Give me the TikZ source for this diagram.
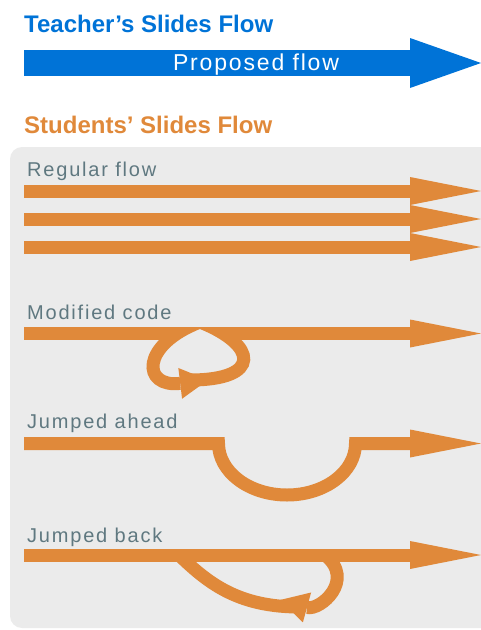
\documentclass[tikz,border=0pt]{standalone}
\usepackage{fontspec}
\setmainfont{Liberation Sans}
\usetikzlibrary{arrows.meta}

\definecolor{teacherblue}{RGB}{0,115,215}
\definecolor{studentorange}{RGB}{224,137,58}
\definecolor{panelgray}{RGB}{235,235,235}
\definecolor{labelgray}{RGB}{95,120,128}

\tikzset{
  title/.style={anchor=base west, inner sep=0pt,
    font=\fontsize{24}{28}\selectfont\bfseries},
  flowlabel/.style={anchor=base west, inner sep=0pt, text=labelgray,
    font=\fontsize{20}{24}\selectfont\addfontfeature{LetterSpace=9}},
  flow/.style={line width=13pt, studentorange},
  flowarrow/.style={flow, -{Triangle[length=71pt,width=28pt,line width=0pt]}},
  looparrow/.style={flow, -{Triangle[length=28pt,width=31pt,line width=0pt]}},
}

\begin{document}
\begin{tikzpicture}[x=1pt,y=1pt]
  \useasboundingbox (0,0) rectangle (481,-630);

  % teacher
  \node[title, text=teacherblue] (teacher) at (24,-32) {Teacher’s Slides Flow};
  \draw[line width=26pt, teacherblue,
    -{Triangle[length=71pt,width=50pt,line width=0pt]}] (24,-63) -- (481,-63);
  \node[anchor=base, inner sep=0pt, text=white,
    font=\fontsize{23}{27}\selectfont\addfontfeature{LetterSpace=8}]
    (proposed) at (256,-70) {Proposed flow};

  % students
  \node[title, text=studentorange] (students) at (24,-133) {Students’ Slides Flow};
  \fill[panelgray, rounded corners=12pt] (10,-147) rectangle (500,-628);

  \node[flowlabel] (regular) at (27,-176) {Regular flow};
  \foreach \y in {191,219,247}
    \draw[flowarrow] (24,-\y) -- (481,-\y);

  \node[flowlabel] (modified) at (27,-319) {Modified code};
  \draw[flow] (24,-333.5) -- (175,-333.5);
  \draw[flowarrow] (225,-333.5) -- (481,-333.5);
  \begin{scope}
    \clip (0,-327) rectangle (481,-420);
    \draw[looparrow] (200,-322) .. controls (140,-345) and (142,-388) .. (208,-380);
    \draw[flow] (190,-380) .. controls (262,-380) and (258,-345) .. (200,-322);
  \end{scope}

  \node[flowlabel] (ahead) at (27,-428) {Jumped ahead};
  \draw[flowarrow] (24,-443.5) -- (218.5,-443.5)
    arc[start angle=180, end angle=360, x radius=68.5, y radius=51.5]
    -- (481,-443.5);

  \node[flowlabel] (back) at (27,-542) {Jumped back};
  \draw[looparrow] (325,-555) .. controls (356,-580) and (320,-611) .. (280,-600);
  \draw[flow] (300,-607) .. controls (240,-607) and (210,-585) .. (180,-556);
  \draw[flowarrow] (24,-555) -- (481,-555);
\end{tikzpicture}
\end{document}
